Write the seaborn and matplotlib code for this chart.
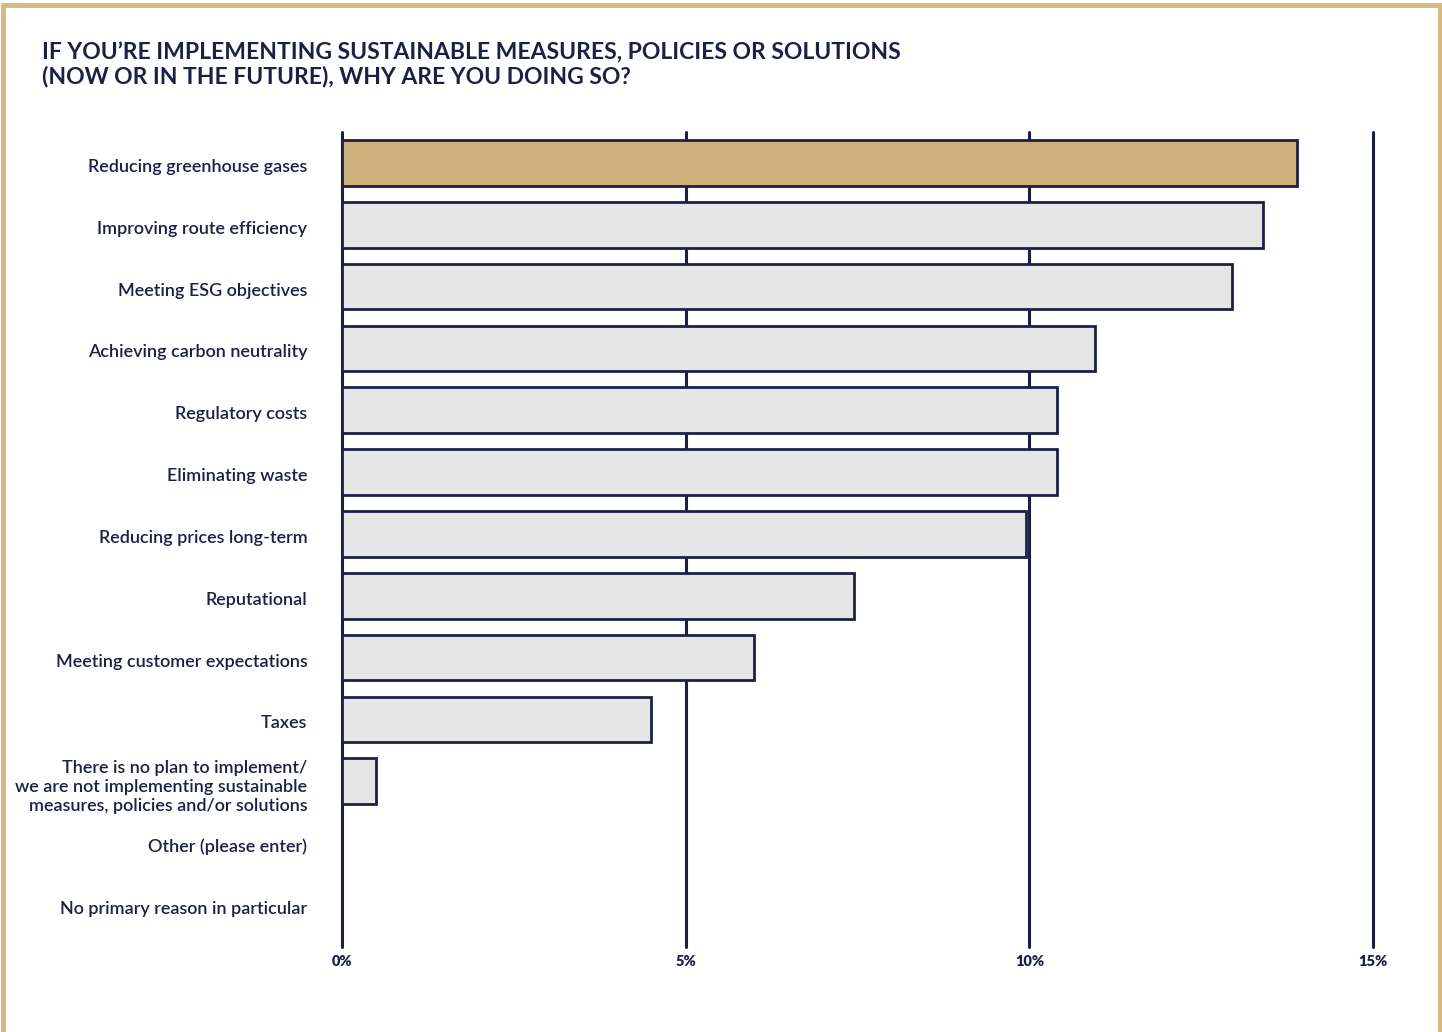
import matplotlib
matplotlib.use("Agg")
import matplotlib.pyplot as plt
import matplotlib.patches as mpatches
import matplotlib.transforms as mtransforms
import seaborn as sns
import pandas as pd

# Survey answers and share of respondents (%)
reasons = [
    "Reducing greenhouse gases",
    "Improving route efficiency",
    "Meeting ESG objectives",
    "Achieving carbon neutrality",
    "Regulatory costs",
    "Eliminating waste",
    "Reducing prices long-term",
    "Reputational",
    "Meeting customer expectations",
    "Taxes",
    "There is no plan to implement/\nwe are not implementing sustainable\nmeasures, policies and/or solutions",
    "Other (please enter)",
    "No primary reason in particular",
]
shares = [13.9, 13.4, 12.95, 10.95, 10.4, 10.4, 9.95, 7.45, 6.0, 4.5, 0.5, 0.0, 0.0]
x_ticks = [0, 5, 10, 15]
x_tick_labels = ["0%", "5%", "10%", "15%"]

NAVY = "#1d2046"
GOLD = "#cdb07c"
GREY = "#e5e6e5"
FRAME = "#d5b97f"

sns.set_theme(style="white")
plt.rcParams["font.family"] = ["Lato", "DejaVu Sans"]

df = pd.DataFrame({"reason": reasons, "share": shares})
colors = [GOLD] + [GREY] * (len(reasons) - 1)

fig = plt.figure(figsize=(14.42, 10.32), dpi=100)
ax = fig.add_axes([342 / 1442, 1 - 947 / 1032, (1373 - 342) / 1442, (947 - 132) / 1032])

sns.barplot(
    data=df, x="share", y="reason", hue="reason", palette=colors, legend=False,
    orient="h", width=0.74, saturation=1, edgecolor=NAVY, linewidth=2.0,
    ax=ax, zorder=3,
)

ax.set_xlim(0, 15)
ax.set_ylim(len(reasons) - 1 + 0.68, -0.5)
for x in x_ticks:
    ax.axvline(x, color=NAVY, linewidth=2.2, zorder=1, clip_on=False)
for s in ax.spines.values():
    s.set_visible(False)

ax.set_xticks(x_ticks)
ax.set_xticklabels(x_tick_labels, fontsize=10.5, fontweight="heavy", color=NAVY)
ax.tick_params(axis="x", length=0, pad=6)
ax.tick_params(axis="y", length=0, pad=25)
shift_down = mtransforms.ScaledTranslation(0, -2.5 / 100, fig.dpi_scale_trans)
for lbl in ax.get_yticklabels():
    lbl.set_fontsize(13)
    lbl.set_color(NAVY)
    lbl.set_fontweight("semibold")
    lbl.set_horizontalalignment("right")
    lbl.set_multialignment("right")
    lbl.set_linespacing(1.22)
    lbl.set_transform(lbl.get_transform() + shift_down)
ax.set_xlabel("")
ax.set_ylabel("")
ax.grid(False)

fig.text(42 / 1442, 1 - 43 / 1032,
         "IF YOU\u2019RE IMPLEMENTING SUSTAINABLE MEASURES, POLICIES OR SOLUTIONS\n(NOW OR IN THE FUTURE), WHY ARE YOU DOING SO?",
         fontsize=16.5, fontweight="bold", color=NAVY, va="top", ha="left", linespacing=1.1)

# Gold page frame
frame = mpatches.Rectangle((2.5 / 1442, -0.05), (1437 / 1442), 1.05 - 5 / 1032,
                           transform=fig.transFigure, fill=False, edgecolor=FRAME,
                           linewidth=3.5, clip_on=False)
fig.patches.append(frame)

fig.savefig("out.png", dpi=100, facecolor="white")
